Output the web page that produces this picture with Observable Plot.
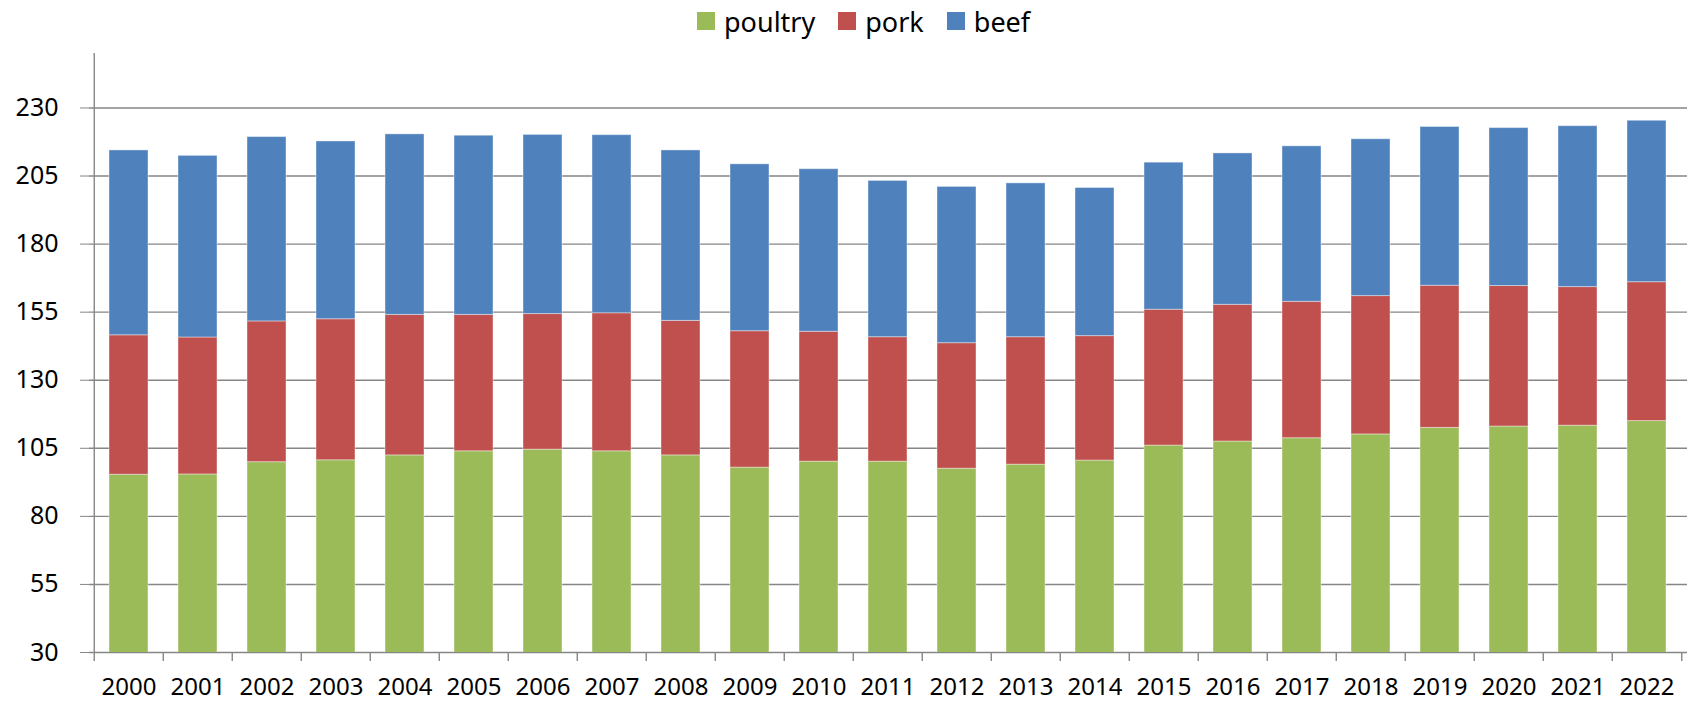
<!DOCTYPE html>
<html>
<head>
<meta charset="utf-8">
<script src="https://cdn.jsdelivr.net/npm/d3@7"></script>
<script src="https://cdn.jsdelivr.net/npm/@observablehq/plot@0.6"></script>
<style>
  html, body { margin: 0; padding: 0; background: #fff; }
  body { width: 1696px; height: 702px; overflow: hidden; font-family: "Noto Sans", sans-serif; }
  #legend { height: 36px; padding-top: 6px; display: flex; align-items: center; padding-left: 697px; box-sizing: border-box; font-size: 27px; color: #000; }
  .item { display: flex; align-items: center; margin-right: 23px; }
  .sw { width: 18px; height: 18px; margin-right: 9px; }
  svg { display: block; }
</style>
</head>
<body>
<div id="legend"></div>
<div id="chart"></div>
<script>
const years = ["2000","2001","2002","2003","2004","2005","2006","2007","2008","2009","2010","2011","2012","2013","2014","2015","2016","2017","2018","2019","2020","2021","2022"];
const seriesNames = ["poultry", "pork", "beef"];
const seriesColors = ["#9BBB59", "#C0504D", "#4F81BD"];
const poultry = [95.3, 95.4, 99.9, 100.6, 102.4, 103.9, 104.5, 103.9, 102.4, 97.9, 100.1, 100.1, 97.5, 99.0, 100.5, 106.0, 107.5, 108.7, 110.1, 112.5, 113.0, 113.3, 115.0];
const pork = [51.2, 50.3, 51.7, 51.8, 51.6, 50.1, 49.8, 50.7, 49.4, 50.1, 47.7, 45.7, 46.1, 46.8, 45.7, 49.9, 50.2, 50.1, 50.8, 52.2, 51.6, 50.9, 51.0];
const beef = [67.9, 66.7, 67.7, 65.3, 66.3, 65.8, 65.8, 65.4, 62.6, 61.3, 59.7, 57.4, 57.4, 56.5, 54.4, 54.0, 55.6, 57.1, 57.6, 58.3, 58.0, 59.1, 59.3];
const yTicks = [30, 55, 80, 105, 130, 155, 180, 205, 230];
const yDomain = [30, 250];

const values = {poultry, pork, beef};
const data = [];
seriesNames.forEach(s => years.forEach((y, i) => data.push({year: y, type: s, value: values[s][i]})));

// legend
const legend = document.getElementById("legend");
seriesNames.forEach((s, i) => {
  const it = document.createElement("div");
  it.className = "item";
  it.innerHTML = `<div class="sw" style="background:${seriesColors[i]}"></div><span>${s}</span>`;
  legend.appendChild(it);
});

const W = 1696, H = 666, mL = 89, mR = 9, mT = 17, mB = 50;
const step = (W - mL - mR) / years.length;
const gridColor = "#868686";

const plot = Plot.plot({
  width: W, height: H,
  marginLeft: mL, marginRight: mR, marginTop: mT, marginBottom: mB,
  style: {fontFamily: "'Noto Sans', sans-serif", fontSize: "24px", color: "#000", background: "#fff", overflow: "visible"},
  x: {domain: years, paddingInner: 0.43, paddingOuter: 0.215, label: null},
  y: {domain: yDomain, label: null},
  color: {domain: seriesNames, range: seriesColors},
  marks: [
    Plot.ruleY(yTicks, {stroke: gridColor, strokeWidth: 1.4}),
    Plot.barY(data, {x: "year", y: "value", fill: "type", order: seriesNames, clip: true,
      stroke: "#fff", strokeOpacity: 0.4, strokeWidth: 1}),
    Plot.ruleX([years[0]], {dx: -step / 2, stroke: gridColor, strokeWidth: 1.4}),
    Plot.ruleX(years, {x: d => d, y1: () => 30, y2: () => 30, dx: -step / 2, insetBottom: -9, stroke: gridColor, strokeWidth: 1.4}),
    Plot.ruleX([years[years.length - 1]], {x: d => d, y1: () => 30, y2: () => 30, dx: step / 2, insetBottom: -9, stroke: gridColor, strokeWidth: 1.4}),
    Plot.axisY({ticks: yTicks, tickSize: 9, tickPadding: 22, stroke: gridColor, fontSize: 25, label: null}),
    Plot.axisX({tickSize: 0, tickPadding: 25, fontSize: 24, label: null})
  ]
});
document.getElementById("chart").appendChild(plot);
</script>
</body>
</html>
